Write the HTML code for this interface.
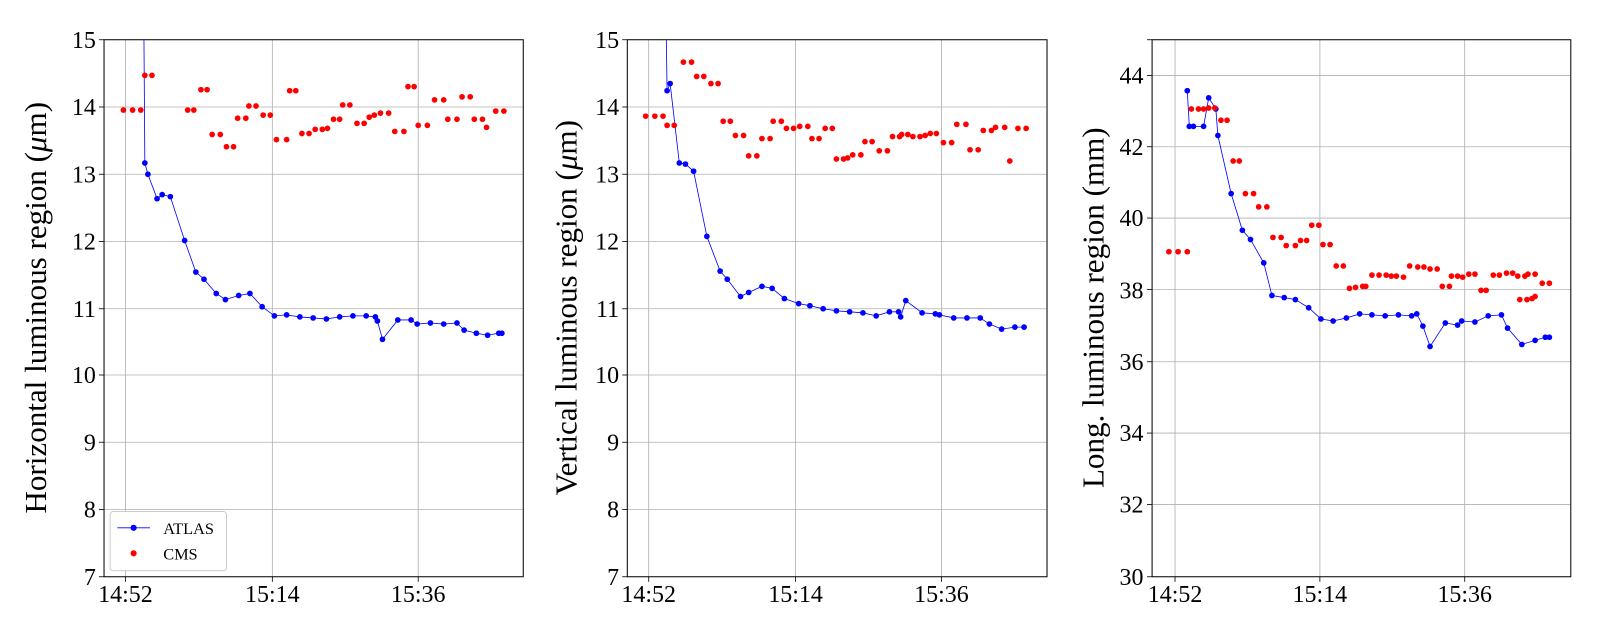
<!DOCTYPE html>
<html><head><meta charset="utf-8"><style>
html,body{margin:0;padding:0;background:#fff;width:1600px;height:640px;overflow:hidden}
svg{display:block}
svg text{font-family:"Liberation Serif","DejaVu Serif",serif;fill:#000}
</style></head><body>
<svg id="s" width="1600" height="640" xmlns="http://www.w3.org/2000/svg">
<defs>
<clipPath id="c1"><rect x="102" y="39" width="411" height="527"/></clipPath>
<clipPath id="c2"><rect x="615" y="39" width="411.5" height="527"/></clipPath>
<clipPath id="c3"><rect x="1129.5" y="39" width="410.5" height="527"/></clipPath>
</defs>
<g transform="scale(1.02,1.019)">
<g id="grid" stroke="#b0b0b0" stroke-width="0.8"></g>
<g id="frames" fill="none" stroke="#000" stroke-width="1">
<rect x="102" y="39" width="411" height="527"/>
<rect x="615" y="39" width="411.5" height="527"/>
<rect x="1129.5" y="39" width="410.5" height="527"/>
</g>
<g font-size="23.5" text-anchor="end">
<text x="94" y="47">15</text><text x="94" y="113">14</text><text x="94" y="179">13</text><text x="94" y="245">12</text><text x="94" y="311">11</text><text x="94" y="376">10</text><text x="94" y="442">9</text><text x="94" y="508">8</text><text x="94" y="574">7</text>
<text x="607" y="47">15</text><text x="607" y="113">14</text><text x="607" y="179">13</text><text x="607" y="245">12</text><text x="607" y="311">11</text><text x="607" y="376">10</text><text x="607" y="442">9</text><text x="607" y="508">8</text><text x="607" y="574">7</text>
<text x="1121" y="82">44</text><text x="1121" y="152">42</text><text x="1121" y="222">40</text><text x="1121" y="293">38</text><text x="1121" y="363">36</text><text x="1121" y="433">34</text><text x="1121" y="503">32</text><text x="1121" y="574">30</text>
</g>
<g font-size="23.5" text-anchor="middle">
<text x="123" y="591">14:52</text><text x="267" y="591">15:14</text><text x="410" y="591">15:36</text>
<text x="636" y="591">14:52</text><text x="780" y="591">15:14</text><text x="923" y="591">15:36</text>
<text x="1152" y="591">14:52</text><text x="1294" y="591">15:14</text><text x="1436" y="591">15:36</text>
</g>
<g font-size="30.5" text-anchor="middle">
<text transform="translate(45,302) rotate(-90)">Horizontal luminous region (<tspan font-style="italic">μ</tspan>m)</text>
<text transform="translate(565,302) rotate(-90)">Vertical luminous region (<tspan font-style="italic">μ</tspan>m)</text>
<text transform="translate(1082,302) rotate(-90)">Long. luminous region (mm)</text>
</g>
<g id="data"></g>
<g>
<rect x="108" y="502" width="114" height="58" rx="3" fill="#fff" stroke="#ccc"/>
<line x1="115" y1="518" x2="147" y2="518" stroke="#00f" stroke-width="0.8"/>
<circle cx="131" cy="518" r="3" fill="#00f"/>
<text x="160" y="524" font-size="16">ATLAS</text>
<circle cx="131" cy="543" r="3" fill="#f00"/>
<text x="160" y="549" font-size="16">CMS</text>
</g>
</g>
</svg>
<script>
var NS="http://www.w3.org/2000/svg";
function el(t,a,p){var e=document.createElementNS(NS,t);for(var k in a)e.setAttribute(k,a[k]);p.appendChild(e);return e;}
var g=document.getElementById('grid');
[[102,513,[123,267,410],[105,171,237,303,368,434,500]],[615,1026.5,[636,780,923],[105,171,237,303,368,434,500]],[1129.5,1540,[1152,1294,1436],[74,144,214,284,355,425,495]]].forEach(function(p){
 p[2].forEach(function(x){el('line',{x1:x,y1:39,x2:x,y2:566},g);el('line',{x1:x,y1:566,x2:x,y2:571,stroke:'#000'},g);});
 p[3].concat([39,566]).forEach(function(y){if(y>39&&y<566)el('line',{x1:p[0],y1:y,x2:p[1],y2:y},g);el('line',{x1:p[0]-5,y1:y,x2:p[0],y2:y,stroke:'#000'},g);});
});
var d=document.getElementById('data');
function P(s){var a=s.trim().split(/\s+/).map(Number),r=[];for(var i=0;i<a.length;i+=2)r.push([a[i],a[i+1]]);return r;}
var atlas=[
["c1",P("141 20 142 160 145 171 154 195 159 191 167 193 181 236 192 267 200 274 212 288 221 294 234 290 245 288 257 301 269 310 281 309 294 311 307 312 320 313 333 311 346 310 359 310 368 311 370 315 375 333 390 314 403 314 409 318 422 317 435 318 448 317 455 324 467 327 478 329 489 327 492 327")],
["c2",P("653 20 654 89 657 82 666 160 672 161 680 168 693 232 706 266 713 274 726 291 734 287 747 281 757 283 769 293 783 298 794 300 807 303 820 305 833 306 846 307 859 310 872 306 881 306 883 311 888 295 904 307 917 308 921 309 935 312 948 312 961 312 970 318 982 323 995 321 1004 321")],
["c3",P("1164 89 1166 124 1170 124 1180 124 1185 96 1192 107 1194 133 1207 190 1218 226 1226 235 1239 258 1247 290 1259 292 1270 294 1283 302 1295 313 1307 315 1320 312 1333 308 1345 309 1358 310 1371 309 1384 310 1389 308 1395 320 1402 340 1417 317 1429 319 1433 315 1446 316 1459 310 1472 309 1478 322 1492 338 1505 334 1515 331 1519 331")]];
var cms=[
P("121 108 130 108 138 108 142 74 149 74 184 108 190 108 197 88 203 88 208 132 216 132 222 144 229 144 233 116 241 116 244 104 251 104 258 113 265 113 271 137 281 137 284 89 290 89 296 131 303 131 309 127 316 127 321 126 327 117 333 117 336 103 343 103 350 121 357 121 362 115 367 113 373 111 381 111 387 129 396 129 400 85 406 85 410 123 419 123 426 98 435 98 439 117 448 117 453 95 461 95 465 117 473 117 477 125 486 109 494 109"),
P("633 114 642 114 650 114 654 123 661 123 670 61 678 61 683 75 690 75 697 82 704 82 709 119 716 119 721 133 729 133 734 153 742 153 747 136 755 136 758 119 766 119 771 126 778 126 784 124 792 124 796 136 803 136 809 126 816 126 820 156 827 156 831 155 836 152 844 152 848 139 855 139 862 148 870 148 875 134 882 134 884 132 890 132 895 134 902 134 907 133 912 131 918 131 925 140 933 140 938 122 947 122 951 147 959 147 964 128 972 128 976 125 985 125 990 158 998 126 1006 126"),
P("1146 247 1155 247 1164 247 1168 107 1175 107 1180 107 1185 106 1191 106 1197 118 1203 118 1209 158 1215 158 1221 190 1229 190 1234 203 1242 203 1248 233 1256 233 1261 241 1270 241 1275 236 1281 236 1286 221 1293 221 1297 240 1304 240 1310 261 1317 261 1323 283 1329 282 1336 281 1339 281 1345 270 1352 270 1359 270 1364 271 1369 271 1376 272 1382 261 1390 262 1396 262 1402 264 1409 264 1414 281 1421 281 1423 271 1429 271 1434 272 1440 269 1446 269 1452 285 1457 285 1464 270 1470 270 1477 268 1483 268 1488 271 1495 271 1498 269 1505 269 1490 294 1497 294 1502 293 1505 291 1512 278 1519 278")];
atlas.forEach(function(a,i){
 var grp=el('g',{'clip-path':'url(#'+a[0]+')'},d);
 el('polyline',{points:a[1].map(function(p){return p.join(',')}).join(' '),fill:'none',stroke:'#00f','stroke-width':0.8},grp);
 a[1].forEach(function(p,j){if(!(j==0&&i<2))el('circle',{cx:p[0],cy:p[1],r:2.8,fill:'#00f'},grp);});
 cms[i].forEach(function(p){el('circle',{cx:p[0],cy:p[1],r:2.8,fill:'#f00'},grp);});
});
</script>
</body></html>
